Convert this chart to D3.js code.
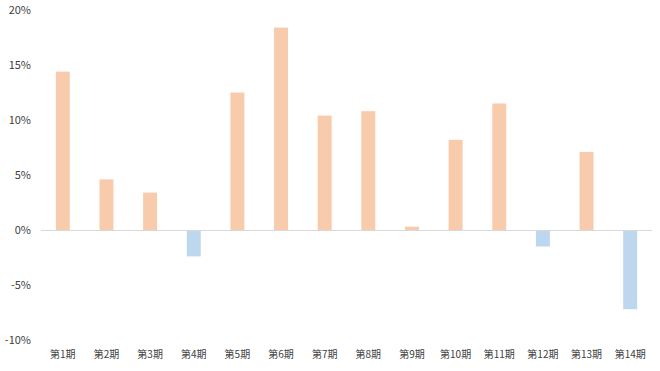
<!DOCTYPE html>
<html>
<head>
  <meta charset="utf-8">
  <title>期別リターン</title>
  <script src="https://d3js.org/d3.v7.min.js"></script>
  <style>
    body { margin: 0; background: #fff; }
    text { font-family: "Noto Sans CJK JP", "DejaVu Sans", sans-serif; fill: #404040; }
  </style>
</head>
<body>
  <div id="chart"></div>
  <script>
    // data (percent)
    var periods = ["第1期", "第2期", "第3期", "第4期", "第5期", "第6期", "第7期",
                   "第8期", "第9期", "第10期", "第11期", "第12期", "第13期", "第14期"];
    var returns = [14.4, 4.6, 3.4, -2.4, 12.5, 18.4, 10.4, 10.8, 0.3, 8.2, 11.5, -1.5, 7.1, -7.2];
    var yTicks = [-10, -5, 0, 5, 10, 15, 20];

    var width = 660, height = 371;
    var plot = { left: 41, right: 652, top: 10, bottom: 340 };

    var svg = d3.select("#chart").append("svg")
      .attr("width", width)
      .attr("height", height);

    var x = d3.scaleBand()
      .domain(periods)
      .range([plot.left, plot.right])
      .paddingInner(0.68)
      .paddingOuter(0.34);

    var y = d3.scaleLinear()
      .domain([-10, 20])
      .range([plot.bottom, plot.top]);

    // y axis labels only
    var yAxis = d3.axisLeft(y)
      .tickValues(yTicks)
      .tickSize(0)
      .tickPadding(0)
      .tickFormat(function(d) { return d + "%"; });
    var gy = svg.append("g")
      .attr("transform", "translate(31,0)")
      .call(yAxis);
    gy.select(".domain").remove();
    gy.selectAll("text").style("font-size", "11px").attr("fill", "#404040");

    // bars
    svg.selectAll(".bar")
      .data(returns)
      .enter().append("rect")
      .attr("class", "bar")
      .attr("x", function(d, i) { return x(periods[i]); })
      .attr("y", function(d) { return y(Math.max(0, d)); })
      .attr("width", x.bandwidth())
      .attr("height", function(d) { return Math.abs(y(d) - y(0)); })
      .attr("fill", function(d) { return d >= 0 ? "#F8CBAD" : "#BDD7EE"; });

    // zero line
    svg.append("line")
      .attr("x1", plot.left).attr("x2", plot.right)
      .attr("y1", y(0) + 0.5).attr("y2", y(0) + 0.5)
      .attr("stroke", "#d9d9d9")
      .attr("stroke-width", 1);

    // category labels
    var xAxis = d3.axisBottom(x).tickSize(0).tickPadding(0);
    var gx = svg.append("g")
      .attr("transform", "translate(0,351)")
      .call(xAxis);
    gx.select(".domain").remove();
    gx.selectAll("text").style("font-size", "10px").attr("fill", "#404040");
  </script>
</body>
</html>
